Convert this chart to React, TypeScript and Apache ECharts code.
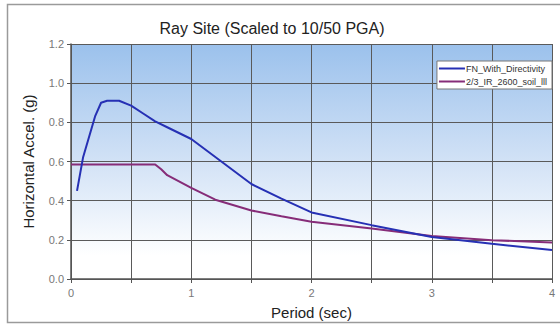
import React, { useEffect, useRef } from "react";
import * as echarts from "echarts";

const titleText = "Ray Site (Scaled to 10/50 PGA)";
const seriesNames = ["FN_With_Directivity", "2/3_IR_2600_soil_lll"];
const fnPeriod = [0.05, 0.1, 0.2, 0.25, 0.3, 0.4, 0.5, 0.6, 0.7, 0.8, 1.0, 1.25, 1.5, 1.75, 2.0, 2.5, 3.0, 3.5, 4.0];
const fnAccel = [0.45, 0.62, 0.83, 0.9, 0.91, 0.91, 0.885, 0.845, 0.805, 0.775, 0.715, 0.6, 0.485, 0.41, 0.34, 0.275, 0.215, 0.18, 0.148];
const irPeriod = [0, 0.7, 0.75, 0.8, 1.0, 1.2, 1.5, 1.75, 2.0, 2.5, 3.0, 3.5, 4.0];
const irAccel = [0.585, 0.585, 0.56, 0.53, 0.465, 0.405, 0.35, 0.32, 0.292, 0.258, 0.22, 0.198, 0.187];

export default function App() {
  const ref = useRef<HTMLDivElement>(null);
  useEffect(() => {
    document.body.style.margin = "0";
    if (!ref.current) return;
    const chart = echarts.init(ref.current, undefined, { renderer: "svg" });
    const font = "'Liberation Sans', Arial, sans-serif";
    chart.setOption({
      animation: false,
      backgroundColor: "#ffffff",
      textStyle: { fontFamily: font },
      title: {
        text: titleText,
        left: 267,
        textAlign: "center",
        top: 15,
        textStyle: { fontSize: 16, fontWeight: "normal", color: "#222", fontFamily: font },
      },
      graphic: [
        {
          type: "rect",
          shape: { x: 7.5, y: 4.5, width: 600, height: 318 },
          style: { fill: "none", stroke: "#9a9a9a", lineWidth: 1.5 },
          silent: true,
          z: -1,
        },
      ],
      grid: {
        left: 71,
        right: 8,
        top: 44,
        bottom: 47,
        show: true,
        borderWidth: 0,
        backgroundColor: new echarts.graphic.LinearGradient(0, 0, 0, 1, [
          { offset: 0, color: "#9bc1ec" },
          { offset: 0.5, color: "#d2e2f6" },
          { offset: 0.9, color: "#ffffff" },
          { offset: 1, color: "#ffffff" },
        ]),
      },
      legend: {
        orient: "vertical",
        right: 8,
        top: 61,
        backgroundColor: "#ffffff",
        borderColor: "#777",
        borderWidth: 1,
        borderRadius: 0,
        padding: [3, 5, 3, 2],
        itemGap: 4,
        itemWidth: 26,
        itemHeight: 2,
        icon: "rect",
        textStyle: { fontSize: 9, color: "#333", padding: [0, 0, 0, -4] },
        data: seriesNames,
      },
      xAxis: {
        type: "value",
        min: 0,
        max: 4,
        interval: 0.5,
        name: "Period (sec)",
        nameLocation: "middle",
        nameGap: 26,
        nameTextStyle: { fontSize: 15, color: "#222" },
        axisLine: { show: true, lineStyle: { color: "#555", width: 1.5 } },
        axisTick: { show: true, length: 4, lineStyle: { color: "#555" } },
        axisLabel: {
          fontSize: 11,
          color: "#777",
          margin: 8,
          formatter: (v: number) => (Number.isInteger(v) ? String(v) : ""),
        },
        splitLine: { show: true, lineStyle: { color: "#5a5a5a", width: 1 } },
      },
      yAxis: {
        type: "value",
        min: 0,
        max: 1.2,
        interval: 0.2,
        name: "Horizontal Accel. (g)",
        nameLocation: "middle",
        nameGap: 35,
        nameTextStyle: { fontSize: 15, color: "#222" },
        axisLine: { show: true, lineStyle: { color: "#555", width: 1.5 } },
        axisTick: { show: true, length: 4, lineStyle: { color: "#555" } },
        axisLabel: {
          fontSize: 11,
          color: "#777",
          margin: 7,
          formatter: (v: number) => v.toFixed(1),
        },
        splitLine: { show: true, lineStyle: { color: "#5a5a5a", width: 1 } },
      },
      series: [
        {
          name: seriesNames[0],
          type: "line",
          data: fnPeriod.map((p, i) => [p, fnAccel[i]]),
          showSymbol: false,
          symbol: "none",
          lineStyle: { color: "#2630b4", width: 2 },
          itemStyle: { color: "#2630b4" },
          z: 3,
        },
        {
          name: seriesNames[1],
          type: "line",
          data: irPeriod.map((p, i) => [p, irAccel[i]]),
          showSymbol: false,
          symbol: "none",
          lineStyle: { color: "#862c78", width: 2 },
          itemStyle: { color: "#862c78" },
          z: 2,
        },
      ],
    });
    return () => chart.dispose();
  }, []);
  return <div ref={ref} style={{ width: 560, height: 326 }} />;
}
